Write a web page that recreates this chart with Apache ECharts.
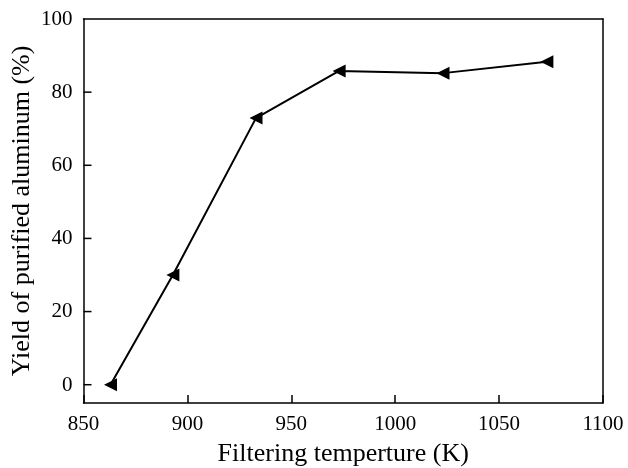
<!DOCTYPE html>
<html>
<head>
<meta charset="utf-8">
<script src="https://cdn.jsdelivr.net/npm/echarts@6/dist/echarts.min.js"></script>
<style>html,body{margin:0;padding:0;background:#fff}#c{width:628px;height:468px}</style>
</head>
<body>
<div id="c"></div>
<script>
const temperatures = [863, 893, 933, 973, 1023, 1073];
const yields = [0, 30, 72.9, 85.8, 85.2, 88.3];
const xTicks = [850, 900, 950, 1000, 1050, 1100];
const yTicks = [0, 20, 40, 60, 80, 100];

const font = 'Liberation Serif';
const frameLine = {show: true, onZero: false, lineStyle: {color: '#000', width: 1.5}};
const chart = echarts.init(document.getElementById('c'), null, {renderer: 'canvas'});
chart.setOption({
  animation: false,
  backgroundColor: '#fff',
  grid: [
    {left: 83.5, right: 25, top: 19, bottom: 65, show: false, containLabel: false, outerBoundsMode: 'none'},
    // helper grid: its 0..100 range coincides with 0..100 of the main grid (y labels)
    {left: 83.5, right: 25, top: 19, bottom: 83, show: false, containLabel: false, outerBoundsMode: 'none'}
  ],
  xAxis: [{
    gridIndex: 0, position: 'bottom',
    type: 'value', min: 850, max: 1100, interval: 50,
    name: 'Filtering temperture (K)', nameLocation: 'middle', nameGap: 38, nameMoveOverlap: false,
    nameTextStyle: {fontFamily: font, fontSize: 26, color: '#000'},
    axisLine: frameLine,
    axisTick: {show: true, inside: true, length: 8, lineStyle: {color: '#000', width: 1.5}},
    axisLabel: {fontFamily: font, fontSize: 21, color: '#000', margin: 11,
      formatter: v => xTicks.includes(v) ? String(v) : ''},
    splitLine: {show: false}
  }, {
    gridIndex: 1, type: 'value', min: 850, max: 1100, show: false
  }, {
    gridIndex: 0, position: 'top', type: 'value', min: 850, max: 1100,
    axisLine: frameLine, axisTick: {show: false}, axisLabel: {show: false}, splitLine: {show: false}
  }],
  yAxis: [{
    gridIndex: 0, position: 'left',
    type: 'value', min: -5, max: 100,
    name: 'Yield of purified aluminum (%)', nameLocation: 'middle', nameGap: 48, nameMoveOverlap: false,
    nameTextStyle: {fontFamily: font, fontSize: 26, color: '#000'},
    axisLine: frameLine,
    axisTick: {show: false},
    axisLabel: {show: false},
    splitLine: {show: false}
  }, {
    gridIndex: 1,
    position: 'left',
    type: 'value', min: yTicks[0], max: yTicks[yTicks.length - 1], interval: 20,
    axisLine: {show: false, onZero: false},
    axisTick: {show: false},
    axisLabel: {fontFamily: font, fontSize: 21, color: '#000', margin: 11,
      formatter: v => (yTicks.includes(v) ? String(v) : '')},
    splitLine: {show: false}
  }, {
    gridIndex: 0, position: 'right', type: 'value', min: -5, max: 100,
    axisLine: frameLine, axisTick: {show: false}, axisLabel: {show: false}, splitLine: {show: false}
  }],
  series: [{
    type: 'line',
    xAxisIndex: 0, yAxisIndex: 0,
    data: temperatures.map((t, i) => [t, yields[i]]),
    symbol: 'triangle', symbolRotate: 90, symbolSize: [13, 13],
    showAllSymbol: true,
    lineStyle: {color: '#000', width: 2},
    itemStyle: {color: '#000'},
    z: 3
  }, {
    // inward y-axis tick marks, placed through the y scale
    type: 'custom',
    xAxisIndex: 0, yAxisIndex: 0,
    clip: false, silent: true,
    data: yTicks.slice(0, -1).map(v => [xTicks[0], v]),
    encode: {x: 0, y: 1},
    renderItem: (params, api) => {
      const p = api.coord([api.value(0), api.value(1)]);
      return {type: 'line', shape: {x1: p[0], y1: p[1], x2: p[0] + 8, y2: p[1]},
              style: {stroke: '#000', lineWidth: 1.5}};
    },
    z: 4
  }]
});
</script>
</body>
</html>
